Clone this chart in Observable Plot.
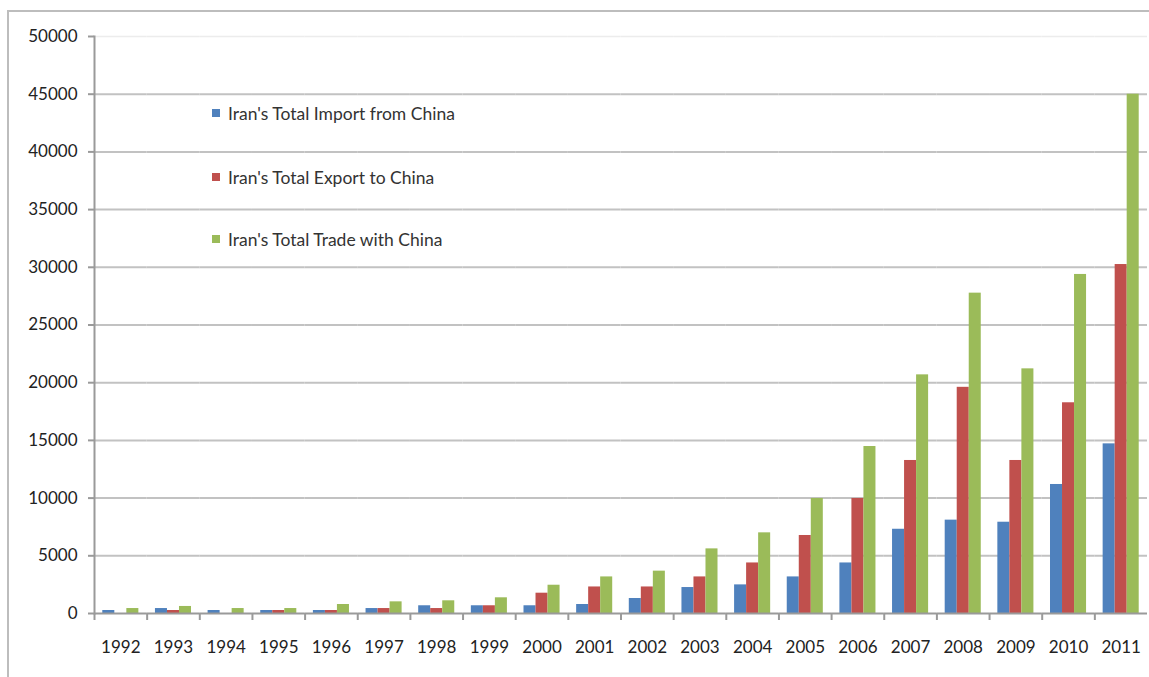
<!DOCTYPE html>
<html>
<head>
<meta charset="utf-8">
<script src="https://cdn.jsdelivr.net/npm/d3@7"></script>
<script src="https://cdn.jsdelivr.net/npm/@observablehq/plot@0.6"></script>
<style>
  html, body { margin: 0; padding: 0; background: #fff; overflow: hidden; }
  #wrap { position: relative; width: 1149px; height: 677px; }
  #border { position: absolute; left: 7px; top: 10px; right: -4px; bottom: -4px;
            border-left: 2px solid #bdbdbd; border-top: 2px solid #bdbdbd; pointer-events: none; }
  #legend { position: absolute; left: 212px; top: 102px; font-family: Lato, "Open Sans", sans-serif;
            font-size: 17.5px; color: #333; }
  .item { position: absolute; white-space: nowrap; display: flex; align-items: center; height: 22px; }
  .sw { width: 8px; height: 8px; margin-right: 8px; }
</style>
</head>
<body>
<div id="wrap">
  <div id="chart"></div>
  <div id="border"></div>
  <div id="legend"></div>
</div>
<script>
const years = ["1992","1993","1994","1995","1996","1997","1998","1999","2000","2001",
               "2002","2003","2004","2005","2006","2007","2008","2009","2010","2011"];
const seriesNames = ["Iran's Total Import from China", "Iran's Total Export to China", "Iran's Total Trade with China"];
const seriesColors = ["#4F81BD", "#C0504D", "#9BBB59"];
const importFromChina = [260, 430, 260, 260, 260, 430, 670, 670, 670, 780,
                         1300, 2250, 2480, 3170, 4380, 7300, 8090, 7910, 11180, 14700];
const exportToChina   = [0, 260, 0, 260, 260, 430, 430, 670, 1760, 2300,
                         2300, 3170, 4380, 6760, 9970, 13260, 19600, 13260, 18260, 30240];
const tradeWithChina  = [430, 610, 430, 430, 780, 1010, 1100, 1360, 2450, 3170,
                         3670, 5600, 6990, 9970, 14470, 20680, 27760, 21200, 29380, 45000];
const yTicks = [0, 5000, 10000, 15000, 20000, 25000, 30000, 35000, 40000, 45000, 50000];

const seriesValues = [importFromChina, exportToChina, tradeWithChina];
const rows = [];
years.forEach((y, i) => seriesNames.forEach((s, j) => rows.push({year: y, series: s, value: seriesValues[j][i]})));

const W = 1149, H = 677, mL = 94, mR = 2, mT = 36, mB = 64;
const step = (W - mL - mR) / years.length;

const chart = Plot.plot({
  width: W, height: H,
  marginLeft: mL, marginRight: mR, marginTop: mT, marginBottom: mB,
  style: {fontFamily: "Lato, 'Open Sans', sans-serif", fontSize: "17px", color: "#222", background: "transparent"},
  fx: {domain: years, padding: 0, round: false, label: null},
  x: {domain: seriesNames, paddingInner: 0, paddingOuter: 0.69, round: false, axis: null},
  y: {domain: [0, 50000], label: null},
  color: {domain: seriesNames, range: seriesColors},
  marks: [
    Plot.ruleY(yTicks.filter(d => d > 0 && d < 50000), {stroke: "#c2c2c2", strokeWidth: 2}),
    Plot.ruleY([50000], {stroke: "#ececec", strokeWidth: 1.5}),
    Plot.barY(rows, {fx: "year", x: "series", y: "value", fill: "series"}),
    Plot.ruleY([0], {stroke: "#9a9a9a", strokeWidth: 2}),
    Plot.frame({anchor: "left", facetAnchor: "left", stroke: "#9a9a9a", strokeWidth: 2}),
    Plot.axisY({ticks: yTicks, tickSize: 6, tickPadding: 11, tickFormat: d => String(d),
                stroke: "#9a9a9a", strokeWidth: 2, fill: "#222", label: null}),
    Plot.axisFx({anchor: "bottom", tickSize: 0, tickPadding: 27, fill: "#222", label: null}),
    Plot.axisFx({anchor: "bottom", tickSize: 7, tickFormat: () => "", dx: -step / 2, stroke: "#9a9a9a", strokeWidth: 2, label: null})
  ]
});
document.getElementById("chart").appendChild(chart);

const legend = document.getElementById("legend");
const rowTops = [0, 64, 126];
seriesNames.forEach((s, i) => {
  const it = document.createElement("div");
  it.className = "item";
  it.style.top = rowTops[i] + "px";
  it.innerHTML = `<span class="sw" style="background:${seriesColors[i]}"></span><span>${s}</span>`;
  legend.appendChild(it);
});
</script>
</body>
</html>
